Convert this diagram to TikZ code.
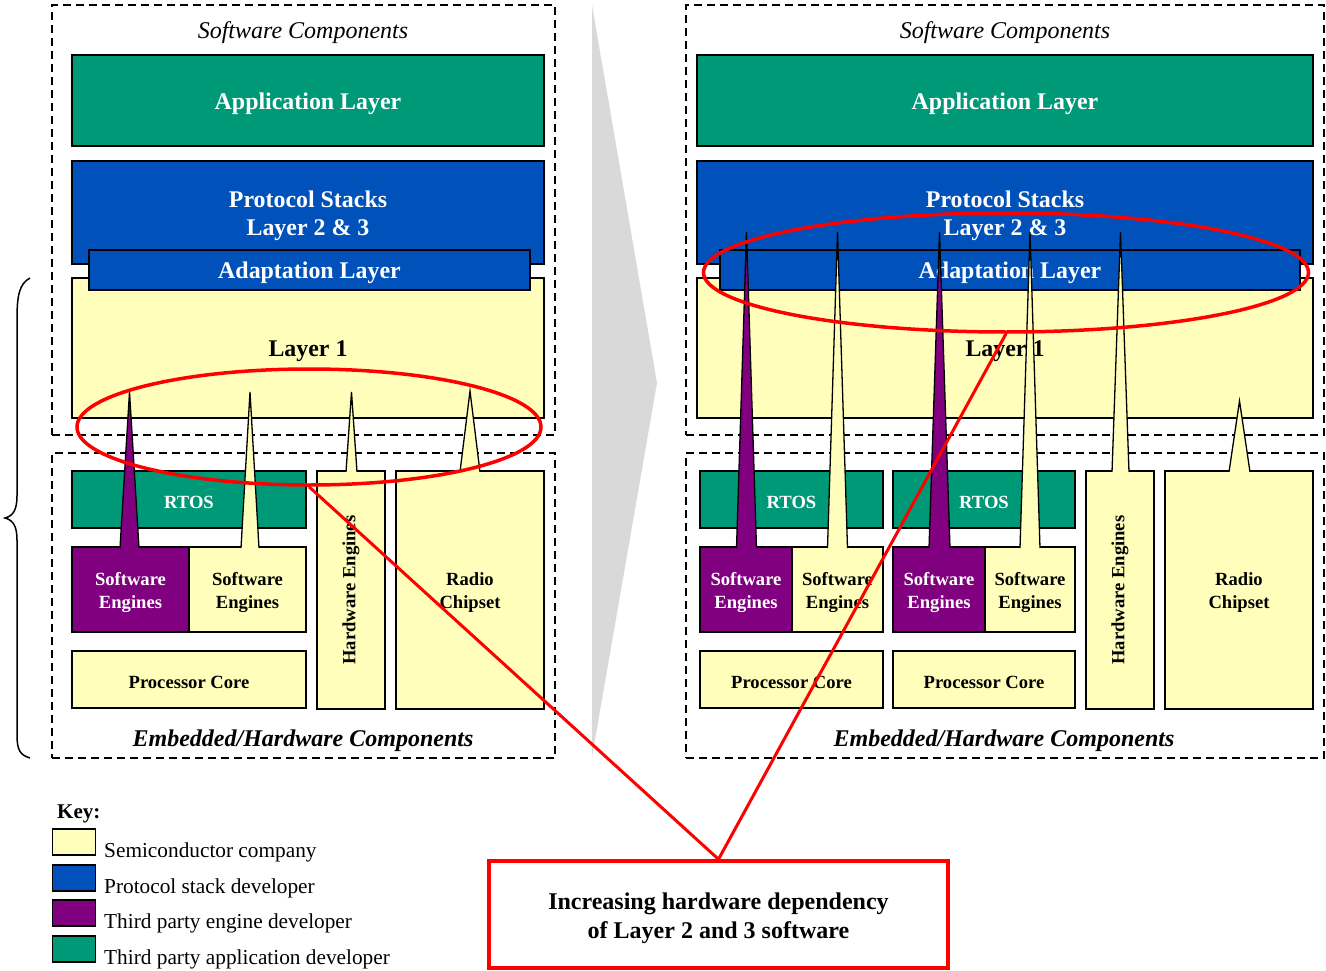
\documentclass[tikz,border=0pt]{standalone}
\usepackage{fontspec}
\setmainfont{Liberation Serif}
\usetikzlibrary{shapes.geometric}
\definecolor{appgreen}{RGB}{0,153,120}
\definecolor{stackblue}{RGB}{0,82,186}
\definecolor{engpurple}{RGB}{128,0,128}
\definecolor{semiyellow}{RGB}{255,255,187}
\definecolor{arrowgray}{RGB}{217,217,217}
\definecolor{hlred}{RGB}{255,0,0}
\newcommand\mkbox[7]{\node[#2, minimum width={#5-#3}, minimum height={#6-#4}] (#1) at ({(#3+#5)/2},{(#4+#6)/2}) {};
  \node[#2, draw=none, fill=none, yshift=-3pt] (#1-t) at (#1.center) {#7};}
\newcommand\mkspike[6]{\fill[#1] (#2,#6) -- (#4,#5) -- (#3,#6) -- cycle; \draw[spikeline] (#2,#6) -- (#4,#5) -- (#3,#6);}
\tikzset{
  blk/.style={draw=black, line width=1.8pt, inner sep=0pt, outer sep=0pt, align=center},
  bigfont/.style={font=\bfseries\fontsize{23.9}{28}\selectfont},
  smallfont/.style={font=\bfseries\fontsize{18.6}{23}\selectfont},
  greenbig/.style={blk, bigfont, fill=appgreen, text=white},
  bluebig/.style={blk, bigfont, fill=stackblue, text=white},
  yellowbig/.style={blk, bigfont, fill=semiyellow, text=black},
  greensmall/.style={blk, smallfont, fill=appgreen, text=white},
  purplesmall/.style={blk, smallfont, fill=engpurple, text=white},
  yellowsmall/.style={blk, smallfont, fill=semiyellow, text=black},
  region/.style={draw=black, line width=2.2pt, dash pattern=on 8pt off 5pt, inner sep=0pt, outer sep=0pt},
  regtitle/.style={font=\itshape\fontsize{24}{28}\selectfont, inner sep=0pt},
  hwtitle/.style={font=\bfseries\itshape\fontsize{24}{28}\selectfont, inner sep=0pt},
  spikeline/.style={draw=black, line width=1.3pt, line join=miter},
  hlellipse/.style={ellipse, draw=hlred, line width=3.5pt, inner sep=0pt},
  hlline/.style={draw=hlred, line width=3pt},
  notebox/.style={draw=hlred, line width=3.5pt, fill=white, inner sep=0pt},
  notetext/.style={inner sep=0pt, align=center, font=\bfseries\fontsize{24}{29}\selectfont},
  keybox/.style={draw=black, line width=1.8pt, inner sep=0pt, outer sep=0pt, minimum width=43, minimum height=26},
  keytext/.style={anchor=west, inner sep=0pt, font=\fontsize{21.3}{24}\selectfont}
}
\begin{document}
\begin{tikzpicture}[x=1pt, y=-1pt]
\useasboundingbox (0,0) rectangle (1326,971);

% gray transition arrow
\fill[arrowgray] (592,5) -- (657,383) -- (592,757) -- cycle;

% brace
\draw[line width=1.5pt] (30,278) .. controls (19,284) and (17,296) .. (17,320) -- (17,496)
  .. controls (17,510) and (13,516) .. (5,518) .. controls (13,520) and (17,526) .. (17,540)
  -- (17,735) .. controls (17,750) and (20,755) .. (30,758);

% ---------- LEFT PANEL ----------
\mkbox{swL}{region}{52}{5}{555}{435}{}
\mkbox{hwL}{region}{52}{453}{555}{758}{}
\node[regtitle] (swtL) at (303,33) {Software Components};
\node[hwtitle] (hwtL) at (303,741) {Embedded/Hardware Components};

\mkbox{appL}{greenbig}{72}{55}{544}{146}{Application Layer}
\mkbox{psL}{bluebig}{72}{161}{544}{264}{Protocol Stacks\\Layer 2 \& 3}
\mkbox{l1L}{yellowbig}{72}{278}{544}{418}{Layer 1}
\mkbox{adL}{bluebig}{89}{250}{530}{290}{Adaptation Layer}

\mkbox{rtosL}{greensmall}{72}{471}{306}{528}{RTOS}
\mkbox{sepL}{purplesmall}{72}{547}{189}{632}{Software\\Engines}
\mkbox{seyL}{yellowsmall}{189}{547}{306}{632}{Software\\Engines}
\mkbox{pcL}{yellowsmall}{72}{651}{306}{708}{Processor Core}
\mkbox{heL}{yellowsmall}{317}{471}{385}{709}{}
\node[smallfont, rotate=90, inner sep=0pt] (hetL) at (heL.center) {Hardware Engines};
\mkbox{rcL}{yellowsmall}{396}{471}{544}{709}{Radio\\Chipset}

\mkspike{engpurple}{120}{139}{129.5}{392}{548}
\mkspike{semiyellow}{241}{259}{250}{392}{548}
\mkspike{semiyellow}{346}{357}{351.5}{392}{472}
\mkspike{semiyellow}{460}{480}{470}{391}{472}

% ---------- RIGHT PANEL ----------
\mkbox{swR}{region}{686}{5}{1324}{435}{}
\mkbox{hwR}{region}{686}{453}{1324}{758}{}
\node[regtitle] (swtR) at (1005,33) {Software Components};
\node[hwtitle] (hwtR) at (1004,741) {Embedded/Hardware Components};

\mkbox{appR}{greenbig}{697}{55}{1313}{146}{Application Layer}
\mkbox{psR}{bluebig}{697}{161}{1313}{264}{Protocol Stacks\\Layer 2 \& 3}
\mkbox{l1R}{yellowbig}{697}{278}{1313}{418}{Layer 1}
\mkbox{adR}{bluebig}{720}{250}{1300}{290}{Adaptation Layer}

\mkbox{rtosRa}{greensmall}{700}{471}{883}{528}{RTOS}
\mkbox{rtosRb}{greensmall}{893}{471}{1075}{528}{RTOS}
\mkbox{sepRa}{purplesmall}{700}{547}{792}{632}{Software\\Engines}
\mkbox{seyRa}{yellowsmall}{792}{547}{883}{632}{Software\\Engines}
\mkbox{sepRb}{purplesmall}{893}{547}{985}{632}{Software\\Engines}
\mkbox{seyRb}{yellowsmall}{985}{547}{1075}{632}{Software\\Engines}
\mkbox{pcRa}{yellowsmall}{700}{651}{883}{708}{Processor Core}
\mkbox{pcRb}{yellowsmall}{893}{651}{1075}{708}{Processor Core}
\mkbox{heR}{yellowsmall}{1086}{471}{1154}{709}{}
\node[smallfont, rotate=90, inner sep=0pt] (hetR) at (heR.center) {Hardware Engines};
\mkbox{rcR}{yellowsmall}{1165}{471}{1313}{709}{Radio\\Chipset}

\mkspike{engpurple}{736.5}{756.5}{746.5}{232}{548}
\mkspike{semiyellow}{827.5}{847.5}{837.5}{232}{548}
\mkspike{engpurple}{929}{950}{939.5}{232}{548}
\mkspike{semiyellow}{1020}{1040}{1030}{232}{548}
\mkspike{semiyellow}{1112}{1129}{1120.5}{232}{472}
\mkspike{semiyellow}{1229}{1250}{1239.5}{401}{472}

% ---------- highlights ----------
\node[hlellipse, minimum width=464, minimum height=116] (ellL) at (309,427) {};
\node[hlellipse, minimum width=605, minimum height=119] (ellR) at (1006,272.5) {};
\node[notebox, minimum width=459, minimum height=107] (note) at (718.5,914.5) {};
\node[notetext] (notet) at (718.5,918.5) {Increasing hardware dependency\\of Layer 2 and 3 software};
\draw[hlline] (ellL.south) -- (note.north);
\draw[hlline] (ellR.south) -- (note.north);

% ---------- key ----------
\node[anchor=west, inner sep=0pt, font=\bfseries\fontsize{21}{24}\selectfont] (keyT) at (57,814) {Key:};
\node[keybox, fill=semiyellow] (k1) at (74,842) {};
\node[keybox, fill=stackblue] (k2) at (74,878) {};
\node[keybox, fill=engpurple] (k3) at (74,913) {};
\node[keybox, fill=appgreen] (k4) at (74,949) {};
\node[keytext] (k1t) at (104,852) {Semiconductor company};
\node[keytext] (k2t) at (104,888) {Protocol stack developer};
\node[keytext] (k3t) at (104,923) {Third party engine developer};
\node[keytext] (k4t) at (104,959) {Third party application developer};
\end{tikzpicture}
\end{document}
